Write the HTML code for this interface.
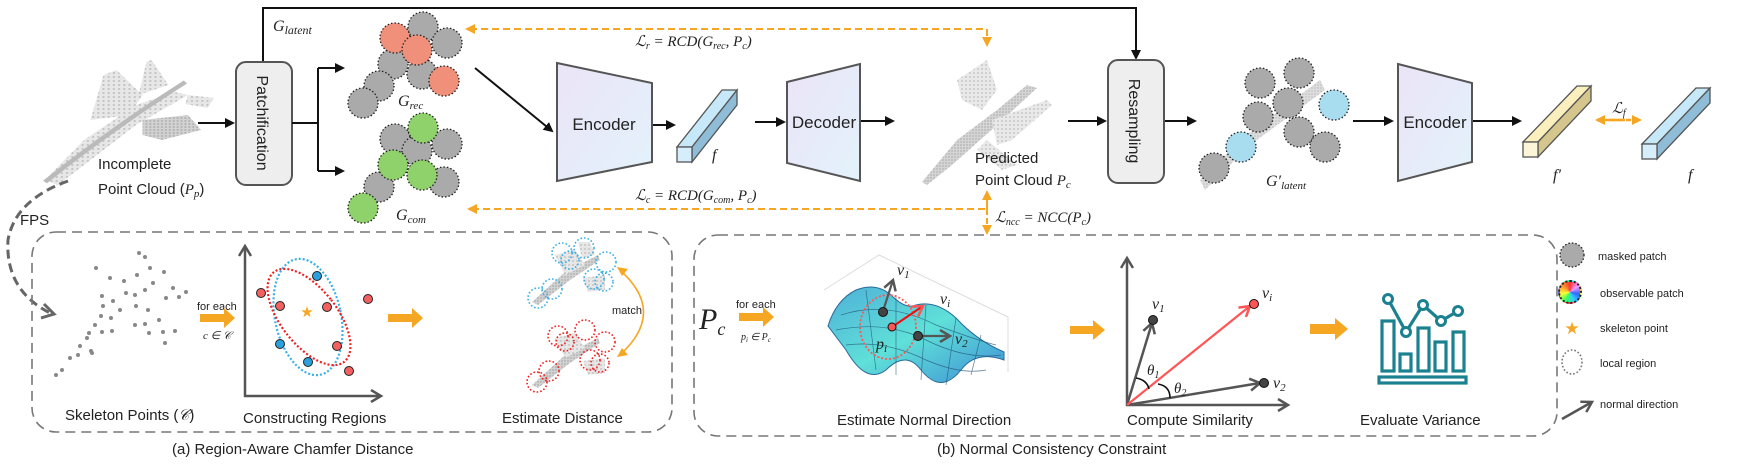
<!DOCTYPE html>
<html><head><meta charset="utf-8"><style>
html,body{margin:0;padding:0;background:#fff;}
#w{position:relative;width:1754px;height:468px;overflow:hidden;}
svg{position:absolute;left:0;top:0;}
text{font-family:"Liberation Sans",sans-serif;fill:#222;}
.m{font-family:"Liberation Serif",serif;font-style:italic;}
#obs{position:absolute;left:1558px;top:280px;width:24px;height:24px;border-radius:50%;background:conic-gradient(#f33,#f9f,#36f,#3cf,#3f6,#ff3,#f93,#f33);box-sizing:border-box;border:2px dotted #222;}
</style></head><body><div id="w">
<svg width="1754" height="468" viewBox="0 0 1754 468">
<defs>
<marker id="ab" markerWidth="10" markerHeight="10" refX="8" refY="5" orient="auto" markerUnits="userSpaceOnUse"><path d="M0,0 L10,5 L0,10z" fill="#111"/></marker>
<marker id="ao" markerWidth="10" markerHeight="10" refX="8" refY="5" orient="auto" markerUnits="userSpaceOnUse"><path d="M0,0 L10,5 L0,10z" fill="#f5a623"/></marker>
<marker id="ag" markerWidth="14" markerHeight="14" refX="11" refY="7" orient="auto" markerUnits="userSpaceOnUse"><path d="M1,1 L11,7 L1,13" fill="none" stroke="#555" stroke-width="2.5"/></marker>
<marker id="ar" markerWidth="14" markerHeight="14" refX="11" refY="7" orient="auto" markerUnits="userSpaceOnUse"><path d="M1,1 L11,7 L1,13" fill="none" stroke="#f55" stroke-width="2.5"/></marker>
<linearGradient id="enc" x1="0" y1="0" x2="1" y2="1"><stop offset="0" stop-color="#ebe4f7"/><stop offset="1" stop-color="#e3f2fb"/></linearGradient>
<linearGradient id="surf" x1="0" y1="0" x2="1" y2="1"><stop offset="0" stop-color="#4fb0d8"/><stop offset="0.5" stop-color="#5fe0d8"/><stop offset="1" stop-color="#3f8fd6"/></linearGradient>
<pattern id="pc" width="4" height="4" patternUnits="userSpaceOnUse"><rect width="4" height="4" fill="#e2e2e2"/><circle cx="1" cy="1" r="0.9" fill="#aaa"/></pattern>
<pattern id="pd" width="3" height="3" patternUnits="userSpaceOnUse"><rect width="3" height="3" fill="#c8c8c8"/><circle cx="1" cy="1" r="0.9" fill="#999"/></pattern>
</defs>

<!-- top feedback line -->
<polyline points="263,62 263,8 1136,8 1136,58" fill="none" stroke="#111" stroke-width="2" marker-end="url(#ab)"/>
<text x="273" y="31" class="m" font-size="16">G<tspan font-size="12" dy="3">latent</tspan></text>

<!-- incomplete point cloud -->
<g opacity="0.8" transform="translate(-7,0) scale(1.3,1)">
<polygon points="40,180 70,140 110,105 140,92 150,95 110,125 80,155 50,185" fill="url(#pc)"/>
<polygon points="75,120 85,75 95,70 115,95 105,115" fill="url(#pc)"/>
<polygon points="112,95 118,62 122,60 135,85" fill="url(#pc)"/>
<polygon points="115,120 150,115 160,130 130,140 115,135" fill="url(#pd)"/>
<polygon points="150,95 170,98 165,108 148,104" fill="url(#pc)"/>
<path d="M40,182 Q90,130 148,82" stroke="#aaa" stroke-width="4" fill="none"/>
</g>
<text x="98" y="169" font-size="15">Incomplete</text>
<text x="98" y="194" font-size="15">Point Cloud (<tspan class="m">P</tspan><tspan class="m" font-size="11" dy="3">p</tspan><tspan dy="-3">)</tspan></text>

<line x1="198" y1="123" x2="233" y2="123" stroke="#111" stroke-width="2" marker-end="url(#ab)"/>
<rect x="236" y="62" width="56" height="123" rx="10" fill="#eee" stroke="#555" stroke-width="2"/>
<text transform="translate(257,123) rotate(90)" text-anchor="middle" font-size="16">Patchification</text>
<polyline points="292,123 318,123" stroke="#111" stroke-width="2" fill="none"/>
<polyline points="318,68 318,171" stroke="#111" stroke-width="2" fill="none"/>
<line x1="318" y1="68" x2="343" y2="68" stroke="#111" stroke-width="2" marker-end="url(#ab)"/>
<line x1="318" y1="171" x2="343" y2="171" stroke="#111" stroke-width="2" marker-end="url(#ab)"/>

<g transform="translate(44,0)">
<g stroke="#222" stroke-width="1.3" stroke-dasharray="1.5 2">
<circle cx="379" cy="27" r="15" fill="#aaa"/><circle cx="403" cy="43" r="15" fill="#aaa"/>
<circle cx="349" cy="64" r="15" fill="#aaa"/><circle cx="378" cy="74" r="15" fill="#aaa"/>
<circle cx="335" cy="86" r="15" fill="#aaa"/><circle cx="319" cy="103" r="15" fill="#aaa"/>
<circle cx="351" cy="38" r="15" fill="#f0907a"/><circle cx="373" cy="50" r="15" fill="#f0907a"/><circle cx="400" cy="81" r="15" fill="#f0907a"/>
</g>
<text x="354" y="106" class="m" font-size="16">G<tspan font-size="11" dy="3">rec</tspan></text>
<g stroke="#222" stroke-width="1.3" stroke-dasharray="1.5 2">
<circle cx="351" cy="139" r="15" fill="#aaa"/><circle cx="373" cy="151" r="15" fill="#aaa"/>
<circle cx="403" cy="144" r="15" fill="#aaa"/><circle cx="400" cy="182" r="15" fill="#aaa"/>
<circle cx="335" cy="187" r="15" fill="#aaa"/>
<circle cx="379" cy="128" r="15" fill="#8fd16a"/><circle cx="349" cy="165" r="15" fill="#8fd16a"/>
<circle cx="378" cy="175" r="15" fill="#8fd16a"/><circle cx="319" cy="208" r="15" fill="#8fd16a"/>
</g>
<text x="352" y="220" class="m" font-size="16">G<tspan font-size="11" dy="3">com</tspan></text>
</g>

<!-- orange dashed losses -->
<polyline points="470,29 987,29 987,45" fill="none" stroke="#f5a623" stroke-width="2" stroke-dasharray="7 4" marker-end="url(#ao)"/>
<path d="M465,29 l10,-5 v10z" fill="#f5a623"/>
<text x="635" y="46" class="m" font-size="15">ℒ<tspan font-size="10" dy="3">r</tspan><tspan dy="-3"> = RCD(G</tspan><tspan font-size="10" dy="3">rec</tspan><tspan dy="-3">, P</tspan><tspan font-size="10" dy="3">c</tspan><tspan dy="-3">)</tspan></text>
<polyline points="472,209 987,209" fill="none" stroke="#f5a623" stroke-width="2" stroke-dasharray="7 4"/>
<path d="M467,209 l10,-5 v10z" fill="#f5a623"/>
<line x1="987" y1="209" x2="987" y2="192" stroke="#f5a623" stroke-width="2" marker-end="url(#ao)"/>
<line x1="987" y1="209" x2="987" y2="233" stroke="#f5a623" stroke-width="2" stroke-dasharray="6 3" marker-end="url(#ao)"/>
<text x="635" y="200" class="m" font-size="15">ℒ<tspan font-size="10" dy="3">c</tspan><tspan dy="-3"> = RCD(G</tspan><tspan font-size="10" dy="3">com</tspan><tspan dy="-3">, P</tspan><tspan font-size="10" dy="3">c</tspan><tspan dy="-3">)</tspan></text>
<text x="995" y="222" class="m" font-size="15">ℒ<tspan font-size="10" dy="3">ncc</tspan><tspan dy="-3"> = NCC(P</tspan><tspan font-size="10" dy="3">c</tspan><tspan dy="-3">)</tspan></text>

<!-- encoder/decoder -->
<line x1="475" y1="68" x2="552" y2="131" stroke="#111" stroke-width="2" marker-end="url(#ab)"/>
<polygon points="557,63 652,83 652,162 557,181" fill="url(#enc)" stroke="#555" stroke-width="2"/>
<text x="604" y="130" text-anchor="middle" font-size="17">Encoder</text>
<line x1="653" y1="125" x2="674" y2="125" stroke="#111" stroke-width="2" marker-end="url(#ab)"/>
<polygon points="677,147 722,90 737,90 692,147" fill="#c6e8f8" stroke="#555" stroke-width="1.3"/>
<polygon points="692,147 737,90 737,105 692,162" fill="#8fbcd6" stroke="#555" stroke-width="1.3"/>
<rect x="677" y="147" width="15" height="15" fill="#d6eefb" stroke="#555" stroke-width="1.3"/>
<text x="712" y="160" class="m" font-size="16">f</text>
<line x1="755" y1="122" x2="784" y2="122" stroke="#111" stroke-width="2" marker-end="url(#ab)"/>
<polygon points="787,82 860,64 860,181 787,163" fill="url(#enc)" stroke="#555" stroke-width="2"/>
<text x="824" y="128" text-anchor="middle" font-size="17">Decoder</text>
<line x1="861" y1="121" x2="893" y2="121" stroke="#111" stroke-width="2" marker-end="url(#ab)"/>

<!-- predicted cloud -->
<g opacity="0.75" transform="translate(57,0)">
<polygon points="865,182 900,140 940,110 970,85 980,88 940,125 895,165 870,185" fill="url(#pd)"/>
<polygon points="900,80 930,60 940,90 925,110 905,100" fill="url(#pc)"/>
<polygon points="935,120 990,100 995,105 955,140 940,145" fill="url(#pc)"/>
<polygon points="930,140 960,165 945,170 920,150" fill="url(#pc)"/>
</g>
<text x="975" y="163" font-size="15">Predicted</text>
<text x="975" y="185" font-size="15">Point Cloud <tspan class="m">P</tspan><tspan class="m" font-size="11" dy="3">c</tspan></text>

<line x1="1068" y1="121" x2="1105" y2="121" stroke="#111" stroke-width="2" marker-end="url(#ab)"/>
<rect x="1108" y="60" width="56" height="123" rx="10" fill="#eee" stroke="#555" stroke-width="2"/>
<text transform="translate(1129,121) rotate(90)" text-anchor="middle" font-size="16">Resampling</text>
<line x1="1165" y1="121" x2="1195" y2="121" stroke="#111" stroke-width="2" marker-end="url(#ab)"/>

<!-- G'latent -->
<polygon points="1200,180 1240,140 1320,80 1325,90 1250,145 1205,190" fill="url(#pd)" opacity="0.6"/>
<g stroke="#222" stroke-width="1.3" stroke-dasharray="1.5 2">
<circle cx="1214" cy="168" r="15" fill="#aaa"/>
<circle cx="1260" cy="83" r="15" fill="#aaa"/><circle cx="1299" cy="73" r="15" fill="#aaa"/>
<circle cx="1258" cy="117" r="15" fill="#aaa"/><circle cx="1288" cy="103" r="15" fill="#aaa"/>
<circle cx="1299" cy="132" r="15" fill="#aaa"/><circle cx="1325" cy="147" r="15" fill="#aaa"/>
<circle cx="1334" cy="105" r="15" fill="#a8dcef"/><circle cx="1241" cy="147" r="15" fill="#a8dcef"/>
</g>
<text x="1266" y="186" class="m" font-size="16">G′<tspan font-size="11" dy="3">latent</tspan></text>
<line x1="1353" y1="121" x2="1392" y2="121" stroke="#111" stroke-width="2" marker-end="url(#ab)"/>
<polygon points="1398,64 1472,83 1472,162 1398,181" fill="url(#enc)" stroke="#555" stroke-width="2"/>
<text x="1435" y="128" text-anchor="middle" font-size="17">Encoder</text>
<line x1="1473" y1="121" x2="1520" y2="121" stroke="#111" stroke-width="2" marker-end="url(#ab)"/>
<polygon points="1523,142 1577,86 1591,86 1538,142" fill="#fbefbd" stroke="#555" stroke-width="1.3"/>
<polygon points="1538,142 1591,86 1591,101 1538,157" fill="#d4c68c" stroke="#555" stroke-width="1.3"/>
<rect x="1523" y="142" width="15" height="15" fill="#fdf5d8" stroke="#555" stroke-width="1.3"/>
<text x="1553" y="180" class="m" font-size="16">f′</text>
<line x1="1610" y1="120" x2="1640" y2="120" stroke="#f5a623" stroke-width="2.5" stroke-dasharray="5 3" marker-end="url(#ao)"/>
<line x1="1625" y1="120" x2="1597" y2="120" stroke="#f5a623" stroke-width="2.5" marker-end="url(#ao)"/>
<text x="1612" y="113" class="m" font-size="15">ℒ<tspan font-size="10" dy="3">f</tspan></text>
<polygon points="1642,144 1696,88 1710,88 1657,144" fill="#c6e8f8" stroke="#555" stroke-width="1.3"/>
<polygon points="1657,144 1710,88 1710,103 1657,159" fill="#8fbcd6" stroke="#555" stroke-width="1.3"/>
<rect x="1642" y="144" width="15" height="15" fill="#d6eefb" stroke="#555" stroke-width="1.3"/>
<text x="1688" y="180" class="m" font-size="16">f</text>

<!-- FPS -->
<path d="M68,181 Q15,200 8,240 Q5,290 50,313" fill="none" stroke="#666" stroke-width="3" stroke-dasharray="9 5"/>
<path d="M44,304 L54,314 L41,318" fill="none" stroke="#666" stroke-width="3"/>
<text x="20" y="225" font-size="15">FPS</text>

<!-- box (a) -->
<rect x="32" y="232" width="640" height="200" rx="24" fill="none" stroke="#777" stroke-width="1.6" stroke-dasharray="10 6"/>
<g fill="#888">
<circle cx="139" cy="253" r="2"/><circle cx="145" cy="257" r="2"/><circle cx="96" cy="268" r="2"/><circle cx="164" cy="272" r="2"/>
<circle cx="150" cy="268" r="2"/><circle cx="137" cy="275" r="2"/><circle cx="110" cy="278" r="2"/><circle cx="124" cy="281" r="2"/>
<circle cx="153" cy="283" r="2"/><circle cx="173" cy="288" r="2"/><circle cx="102" cy="296" r="2"/><circle cx="126" cy="293" r="2"/>
<circle cx="145" cy="290" r="2"/><circle cx="135" cy="295" r="2"/><circle cx="113" cy="301" r="2"/><circle cx="166" cy="298" r="2"/>
<circle cx="186" cy="292" r="2"/><circle cx="179" cy="297" r="2"/><circle cx="103" cy="306" r="2"/><circle cx="120" cy="310" r="2"/>
<circle cx="136" cy="306" r="2"/><circle cx="148" cy="310" r="2"/><circle cx="101" cy="316" r="2"/><circle cx="111" cy="318" r="2"/>
<circle cx="145" cy="324" r="2"/><circle cx="159" cy="320" r="2"/><circle cx="135" cy="325" r="2"/><circle cx="95" cy="325" r="2"/>
<circle cx="102" cy="332" r="2"/><circle cx="112" cy="331" r="2"/><circle cx="149" cy="333" r="2"/><circle cx="163" cy="332" r="2"/>
<circle cx="175" cy="331" r="2"/><circle cx="165" cy="343" r="2"/><circle cx="89" cy="333" r="2"/><circle cx="87" cy="338" r="2"/>
<circle cx="80" cy="346" r="2"/><circle cx="91" cy="351" r="2"/><circle cx="78" cy="355" r="2"/><circle cx="92" cy="353" r="2"/>
<circle cx="70" cy="358" r="2"/><circle cx="62" cy="370" r="2"/><circle cx="56" cy="375" r="2"/>
</g>
<text x="65" y="420" font-size="15">Skeleton Points (<tspan class="m">𝒞</tspan>)</text>
<text x="197" y="310" font-size="11">for each</text>
<path d="M200,314 h24 v-6 l11,10 l-11,10 v-6 h-24z" fill="#f5a623"/>
<text x="203" y="339" class="m" font-size="11">c ∈ 𝒞</text>
<line x1="245" y1="397" x2="245" y2="246" stroke="#555" stroke-width="2.5" marker-end="url(#ag)"/>
<line x1="244" y1="396" x2="381" y2="396" stroke="#555" stroke-width="2.5" marker-end="url(#ag)"/>
<ellipse cx="308" cy="317" rx="33" ry="59" transform="rotate(-12 308 317)" fill="none" stroke="#3ab0e6" stroke-width="2.2" stroke-dasharray="2 2"/>
<ellipse cx="309" cy="317" rx="28" ry="57" transform="rotate(-38 309 317)" fill="none" stroke="#e22" stroke-width="2.2" stroke-dasharray="2 2"/>
<g stroke="#222" stroke-width="1">
<circle cx="261" cy="293" r="4.5" fill="#f26060"/><circle cx="280" cy="306" r="4.5" fill="#f26060"/><circle cx="327" cy="307" r="4.5" fill="#f26060"/>
<circle cx="368" cy="299" r="4.5" fill="#f26060"/><circle cx="337" cy="346" r="4.5" fill="#f26060"/><circle cx="349" cy="371" r="4.5" fill="#f26060"/>
<circle cx="317" cy="276" r="4.5" fill="#2aa0dd"/><circle cx="280" cy="344" r="4.5" fill="#2aa0dd"/><circle cx="308" cy="362" r="4.5" fill="#2aa0dd"/>
</g>
<text x="307" y="317" text-anchor="middle" font-size="15" style="fill:#f5a623">★</text>
<text x="243" y="423" font-size="15">Constructing Regions</text>
<path d="M388,314 h24 v-6 l11,10 l-11,10 v-6 h-24z" fill="#f5a623"/>
<g opacity="0.8">
<polygon points="532,302 565,272 598,255 600,260 570,280 538,305" fill="url(#pd)"/>
<polygon points="555,255 575,250 585,265 565,275" fill="url(#pc)"/>
<polygon points="578,242 590,242 595,255 582,258" fill="url(#pc)"/>
<polygon points="583,278 605,275 605,290 588,292" fill="url(#pc)"/>
<polygon points="532,385 565,355 598,338 600,343 570,363 538,388" fill="url(#pd)"/>
<polygon points="555,338 575,333 585,348 565,358" fill="url(#pc)"/>
<polygon points="583,361 605,358 605,373 588,375" fill="url(#pc)"/>
</g>
<g fill="none" stroke="#3ab0e6" stroke-width="1.6" stroke-dasharray="1.6 2">
<circle cx="562" cy="253" r="10"/><circle cx="570" cy="260" r="9"/><circle cx="584" cy="248" r="10"/><circle cx="606" cy="262" r="10"/>
<circle cx="594" cy="279" r="10"/><circle cx="604" cy="282" r="9"/><circle cx="552" cy="289" r="10"/><circle cx="538" cy="298" r="10"/>
</g>
<g fill="none" stroke="#e22" stroke-width="1.6" stroke-dasharray="1.6 2">
<circle cx="558" cy="336" r="10"/><circle cx="565" cy="342" r="9"/><circle cx="585" cy="330" r="10"/><circle cx="605" cy="342" r="10"/>
<circle cx="590" cy="360" r="10"/><circle cx="600" cy="363" r="9"/><circle cx="549" cy="371" r="10"/><circle cx="537" cy="382" r="10"/>
</g>
<text x="612" y="314" font-size="11">match</text>
<path d="M622,272 Q665,312 622,353" fill="none" stroke="#f5a623" stroke-width="1.6"/>
<path d="M617,267 l11,2 l-6,7z M617,357 l11,-2 l-6,-7z" fill="#f5a623"/>
<text x="502" y="423" font-size="15">Estimate Distance</text>
<text x="172" y="454" font-size="15">(a) Region-Aware Chamfer Distance</text>

<!-- box (b) -->
<rect x="694" y="235" width="863" height="201" rx="24" fill="none" stroke="#777" stroke-width="1.6" stroke-dasharray="10 6"/>
<text x="699" y="329" class="m" font-size="30">P<tspan font-size="18" dy="6">c</tspan></text>
<text x="736" y="308" font-size="11">for each</text>
<path d="M739,313 h24 v-6 l11,10 l-11,10 v-6 h-24z" fill="#f5a623"/>
<text x="741" y="340" class="m" font-size="10">p<tspan font-size="7" dy="2">i</tspan><tspan dy="-2"> ∈ P</tspan><tspan font-size="7" dy="2">c</tspan></text>
<g transform="translate(36,0)">
<polyline points="788,290 843,255 972,317 972,372" fill="none" stroke="#ddd" stroke-width="1"/>
<path d="M792,326 Q800,300 820,290 Q840,282 855,295 Q870,310 880,305 Q900,300 920,318 Q940,340 968,352 L968,360 Q940,350 925,370 Q905,395 885,370 Q870,350 850,370 Q830,385 810,350 Z" fill="url(#surf)" stroke="#2a6a9a" stroke-width="1"/>
<g stroke="#1d4f6f" stroke-width="0.7" fill="none" opacity="0.7">
<path d="M800,330 Q850,320 890,340 Q930,360 965,355"/><path d="M805,315 Q850,300 900,325 Q940,340 960,345"/>
<path d="M810,345 Q850,340 890,360 Q925,375 950,370"/><path d="M830,290 L840,370"/><path d="M860,295 L860,375"/>
<path d="M890,305 L885,380"/><path d="M920,318 L910,385"/><path d="M945,335 L935,375"/>
</g>
<ellipse cx="852" cy="327" rx="28" ry="32" fill="none" stroke="#f55" stroke-width="1.8" stroke-dasharray="2 2"/>
<line x1="847" y1="311" x2="857" y2="280" stroke="#555" stroke-width="2.2" marker-end="url(#ag)"/>
<line x1="882" y1="336" x2="914" y2="336" stroke="#555" stroke-width="2.2" marker-end="url(#ag)"/>
<line x1="856" y1="327" x2="887" y2="306" stroke="#e11" stroke-width="2.2" marker-end="url(#ar)"/>
<circle cx="847" cy="312" r="4.5" fill="#444" stroke="#111"/><circle cx="882" cy="336" r="4.5" fill="#444" stroke="#111"/>
<circle cx="856" cy="327" r="4" fill="#f55" stroke="#111"/>
<text x="861" y="275" class="m" font-size="16">v<tspan font-size="11" dy="3">1</tspan></text>
<text x="904" y="304" class="m" font-size="16">v<tspan font-size="11" dy="3">i</tspan></text>
<text x="919" y="344" class="m" font-size="16">v<tspan font-size="11" dy="3">2</tspan></text>
<text x="840" y="349" class="m" font-size="16">p<tspan font-size="11" dy="3">i</tspan></text>
</g>
<text x="837" y="425" font-size="15">Estimate Normal Direction</text>
<path d="M1070,326 h23 v-6 l12,10 l-12,10 v-6 h-23z" fill="#f5a623"/>
<line x1="1127" y1="406" x2="1127" y2="258" stroke="#555" stroke-width="2.5" marker-end="url(#ag)"/>
<line x1="1126" y1="405" x2="1288" y2="405" stroke="#555" stroke-width="2.5" marker-end="url(#ag)"/>
<line x1="1127" y1="405" x2="1152" y2="323" stroke="#555" stroke-width="2.5" marker-end="url(#ag)"/>
<line x1="1127" y1="405" x2="1260" y2="383" stroke="#555" stroke-width="2.5" marker-end="url(#ag)"/>
<line x1="1127" y1="405" x2="1250" y2="306" stroke="#f55" stroke-width="2.2" marker-end="url(#ar)"/>
<circle cx="1153" cy="320" r="4.5" fill="#444" stroke="#111"/><circle cx="1264" cy="383" r="4.5" fill="#444" stroke="#111"/>
<circle cx="1254" cy="304" r="4.5" fill="#f55" stroke="#111"/>
<path d="M1136,378 Q1147,380 1149,389" fill="none" stroke="#111" stroke-width="1.6"/>
<path d="M1158,384 Q1170,386 1170,398" fill="none" stroke="#111" stroke-width="1.6"/>
<text x="1147" y="375" class="m" font-size="15">θ<tspan font-size="10" dy="3">1</tspan></text>
<text x="1174" y="393" class="m" font-size="15">θ<tspan font-size="10" dy="3">2</tspan></text>
<text x="1152" y="309" class="m" font-size="16">v<tspan font-size="11" dy="3">1</tspan></text>
<text x="1262" y="298" class="m" font-size="16">v<tspan font-size="11" dy="3">i</tspan></text>
<text x="1273" y="388" class="m" font-size="16">v<tspan font-size="11" dy="3">2</tspan></text>
<text x="1127" y="425" font-size="15">Compute Similarity</text>
<path d="M1310,324 h25 v-6 l13,11 l-13,11 v-6 h-25z" fill="#f5a623"/>
<g stroke="#1b8190" stroke-width="3.2" fill="none">
<rect x="1382" y="321" width="12" height="50"/><rect x="1400" y="354" width="11" height="17"/>
<rect x="1418" y="328" width="11" height="43"/><rect x="1435" y="342" width="11" height="29"/><rect x="1453" y="332" width="11" height="39"/>
<rect x="1379" y="377" width="87" height="6"/>
<polyline points="1388,299 1406,332 1423,305 1441,321 1458,311"/>
</g>
<g stroke="#1b8190" stroke-width="3" fill="#fff">
<circle cx="1388" cy="299" r="4.5"/><circle cx="1406" cy="332" r="4.5"/><circle cx="1423" cy="305" r="4.5"/><circle cx="1441" cy="321" r="4.5"/><circle cx="1458" cy="311" r="4.5"/>
</g>
<text x="1360" y="425" font-size="15">Evaluate Variance</text>
<text x="937" y="454" font-size="15">(b) Normal Consistency Constraint</text>

<!-- legend -->
<circle cx="1572" cy="255" r="12" fill="#aaa" stroke="#222" stroke-width="1.3" stroke-dasharray="1.5 2"/>
<text x="1598" y="260" font-size="11">masked patch</text>
<text x="1600" y="297" font-size="11">observable patch</text>
<text x="1572" y="334" text-anchor="middle" font-size="17" style="fill:#f5a623">★</text>
<text x="1600" y="332" font-size="11">skeleton point</text>
<ellipse cx="1572" cy="362" rx="10" ry="12" fill="none" stroke="#777" stroke-width="1.6" stroke-dasharray="1.6 2"/>
<text x="1600" y="367" font-size="11">local region</text>
<line x1="1562" y1="419" x2="1592" y2="402" stroke="#555" stroke-width="2.5" marker-end="url(#ag)"/>
<text x="1600" y="408" font-size="11">normal direction</text>
</svg>
<div id="obs"></div>
</div></body></html>
